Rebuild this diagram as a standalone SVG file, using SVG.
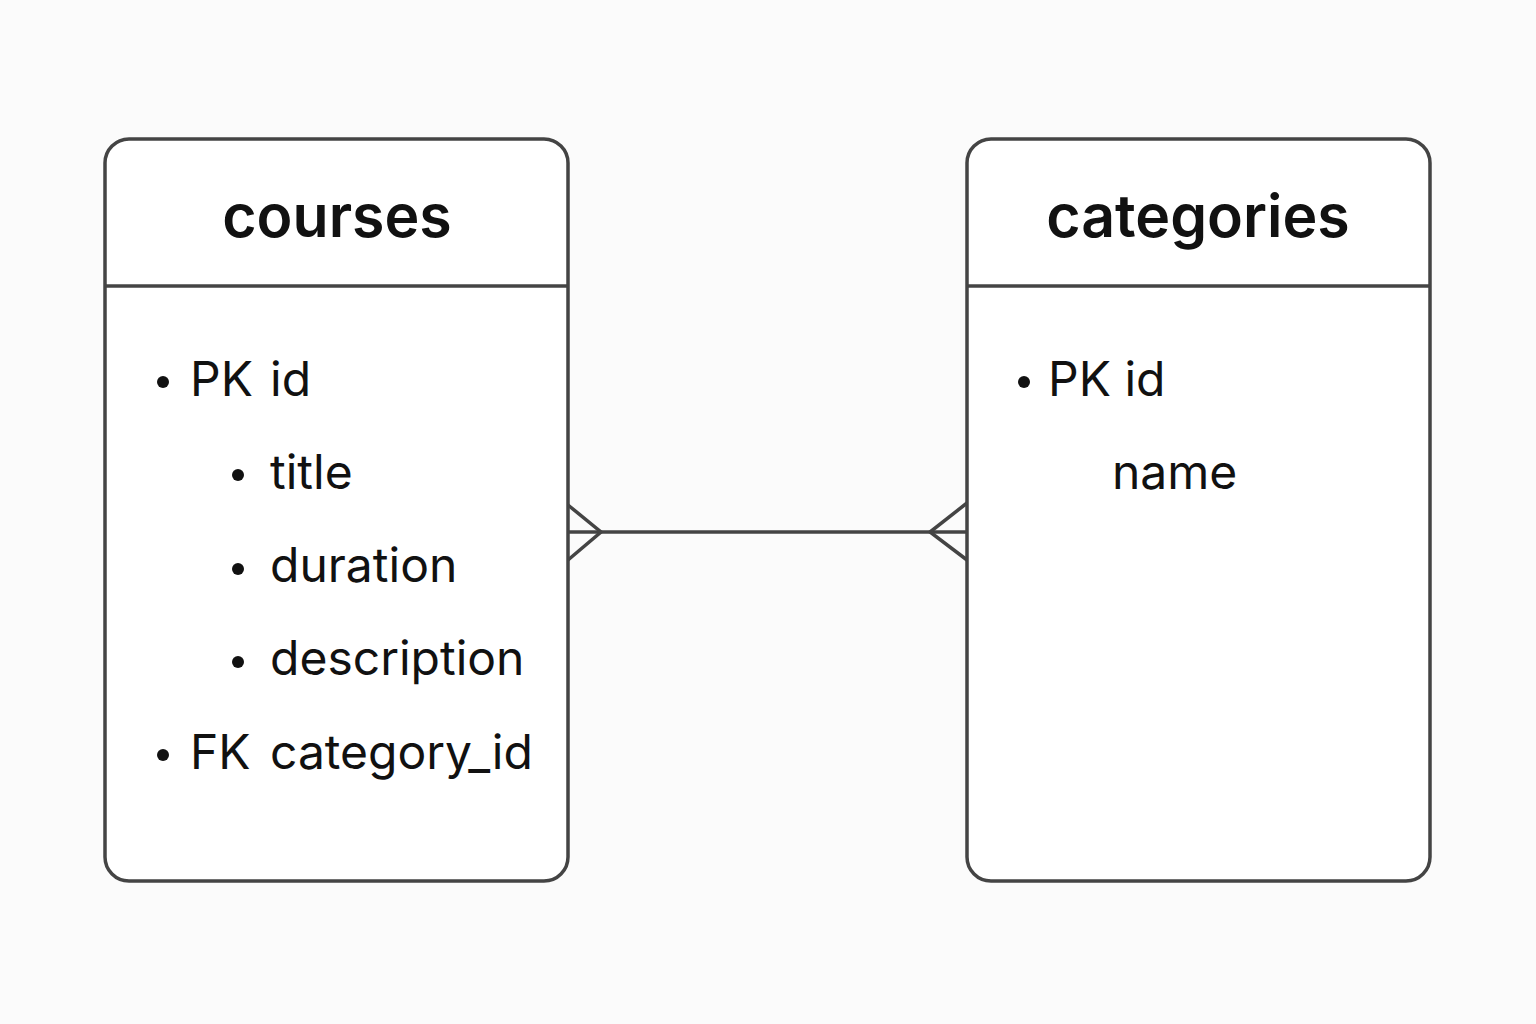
<svg xmlns="http://www.w3.org/2000/svg" width="1536" height="1024" viewBox="0 0 1536 1024">
<style>
.box{fill:#fff;stroke:#444;stroke-width:3.5}
.div{stroke:#444;stroke-width:3.5}
.title{font-family:Inter,"Liberation Sans",sans-serif;font-weight:600;font-size:59px;fill:#111;text-anchor:middle}
.row{font-family:Inter,"Liberation Sans",sans-serif;font-size:48px;fill:#111}
.conn{fill:none;stroke:#444;stroke-width:3.5;stroke-linejoin:miter}
</style>
<rect width="1536" height="1024" fill="#fbfbfb"/>
<g id="courses">
<rect class="box" x="105" y="139" width="463" height="742" rx="24"/>
<line class="div" x1="105" y1="286" x2="568" y2="286"/>
<text class="title" x="337" y="237">courses</text>
<circle cx="163" cy="382" r="6" fill="#111"/>
<text class="row" x="190" y="396">PK</text>
<text class="row" x="270" y="396">id</text>
<circle cx="238" cy="475" r="6" fill="#111"/>
<text class="row" x="270" y="489">title</text>
<circle cx="238" cy="569" r="6" fill="#111"/>
<text class="row" x="270" y="582">duration</text>
<circle cx="238" cy="662" r="6" fill="#111"/>
<text class="row" x="270" y="675">description</text>
<circle cx="163" cy="755" r="6" fill="#111"/>
<text class="row" x="190" y="769">FK</text>
<text class="row" x="270" y="769">category_id</text>
</g>
<g id="categories">
<rect class="box" x="967" y="139" width="463" height="742" rx="24"/>
<line class="div" x1="967" y1="286" x2="1430" y2="286"/>
<text class="title" x="1198" y="237">categories</text>
<circle cx="1024" cy="382" r="6" fill="#111"/>
<text class="row" x="1048" y="396">PK id</text>
<text class="row" x="1112" y="489">name</text>
</g>
<g id="connectors">
<line class="conn" x1="568" y1="532" x2="967" y2="532"/>
<polyline class="conn" points="568,505 601,532 568,560"/>
<polyline class="conn" points="967,503 930,532 967,560"/>
</g>
</svg>
